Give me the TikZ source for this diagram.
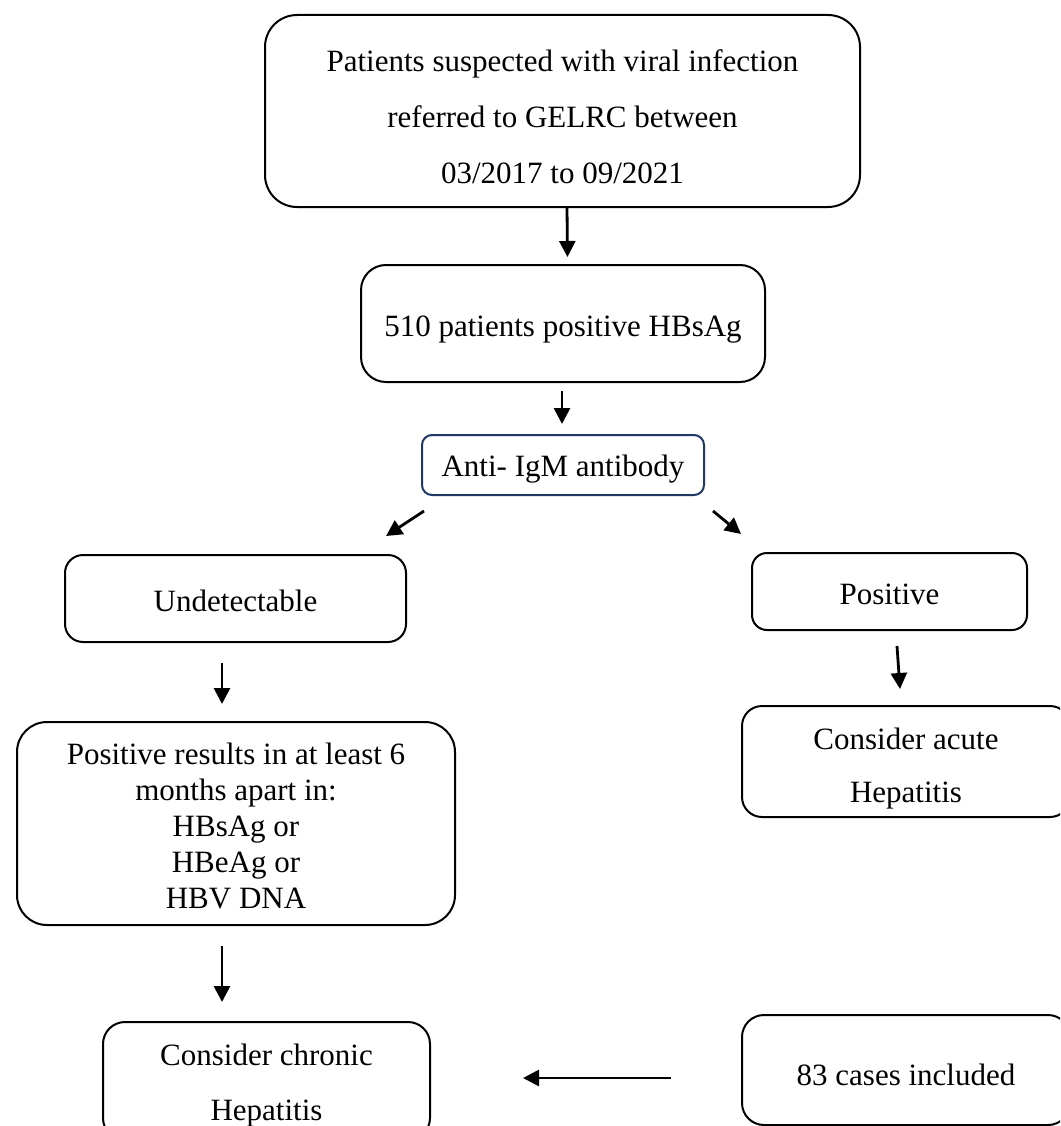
\documentclass[tikz,border=0pt]{standalone}
\usepackage{fontspec}
\setmainfont{Liberation Serif}
\usetikzlibrary{arrows.meta}
\definecolor{navy}{HTML}{1F3864}
\newcommand{\dnrule}[1][31pt]{\rule{0pt}{#1}}
\tikzset{
  box/.style={draw, line width=2pt, align=center, inner sep=0pt, font=\fontsize{31}{36}\selectfont},
  arr/.style={line width=2.8pt, -{Triangle[length=16pt,width=16pt]}}
}
\begin{document}
\begin{tikzpicture}[x=1pt,y=-1pt]
\useasboundingbox (0,0) rectangle (1060,1126);
\clip (0,0) rectangle (1060,1126);
\fill[white] (0,0) rectangle (1060,1126);

\node[box, rounded corners=32pt, minimum width=595pt, minimum height=192pt,
  font=\fontsize{31}{56}\selectfont] (top) at (562.5,111)
  {\dnrule[33pt]Patients suspected with viral infection\\referred to GELRC between\\03/2017 to 09/2021};
\node[box, rounded corners=25pt, minimum width=404pt, minimum height=117pt] (b2) at (563,323.5)
  {\dnrule[32pt]510 patients positive HBsAg};
\node[box, draw=navy, rounded corners=10pt, minimum width=282pt, minimum height=60pt] (anti) at (563,465)
  {\dnrule[30pt]Anti- IgM antibody};
\node[box, rounded corners=18pt, minimum width=341pt, minimum height=87pt] (und) at (235.5,598.5)
  {\dnrule[26pt]Undetectable};
\node[box, rounded corners=15pt, minimum width=275pt, minimum height=77pt] (pos) at (889.5,591.5)
  {\dnrule[27pt]Positive};
\node[box, rounded corners=20pt, minimum width=328pt, minimum height=111pt,
  font=\fontsize{31}{53}\selectfont] (acute) at (906,761.5)
  {\dnrule[36pt]Consider acute\\Hepatitis};
\node[box, rounded corners=30pt, minimum width=438pt, minimum height=203pt] (pr) at (236,823.5)
  {\dnrule[26pt]Positive results in at least 6\\months apart in:\\HBsAg or\\HBeAg or\\HBV DNA};
\node[box, rounded corners=22pt, minimum width=327pt, minimum height=118pt,
  font=\fontsize{31}{55}\selectfont] (chr) at (266.5,1081)
  {\dnrule[31pt]Consider chronic\\Hepatitis};
\node[box, rounded corners=22pt, minimum width=328pt, minimum height=110pt] (inc) at (906,1070)
  {\dnrule[31pt]83 cases included};

\draw[arr] ([shift={(4.5,0)}]top.south) -- ([shift={(4.5,-7)}]b2.north);
\draw[arr] ([shift={(-1,8)}]b2.south) -- ([shift={(-1,-10)}]anti.north);
\draw[arr] ([shift={(3,15)}]anti.south west) -- ([shift={(-21,-18)}]und.north east);
\draw[arr] ([shift={(8,15)}]anti.south east) -- ([shift={(-10,-18)}]pos.north west);
\draw[arr] ([shift={(-13.5,20)}]und.south) -- ([shift={(-14,-17)}]pr.north);
\draw[arr] ([shift={(7.5,15)}]pos.south) -- ([shift={(-6,-16)}]acute.north);
\draw[arr] ([shift={(-14,20)}]pr.south) -- ([shift={(-44.5,-19)}]chr.north);
\draw[arr] ([shift={(-70,8)}]inc.west) -- ([shift={(92,-3)}]chr.east);
\end{tikzpicture}
\end{document}
